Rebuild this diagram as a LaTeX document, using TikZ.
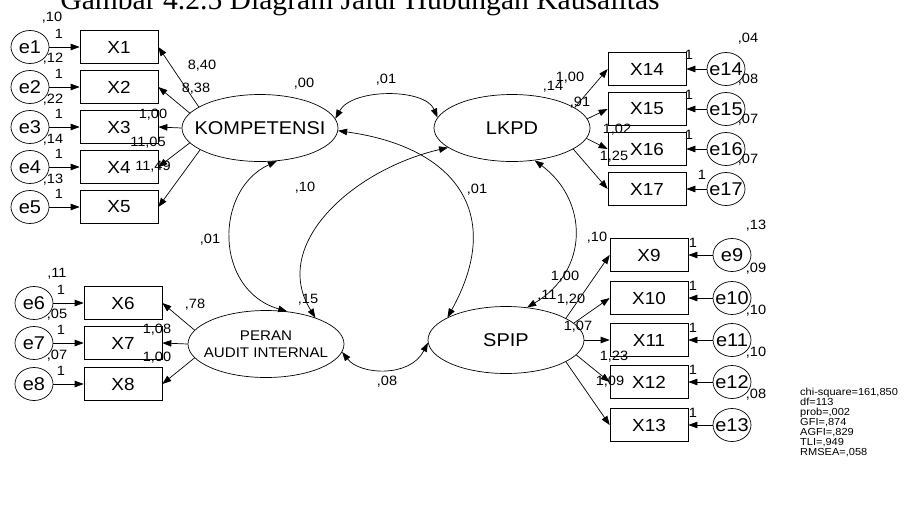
\documentclass[tikz,border=0pt]{standalone}
\usepackage{fontspec}
\setmainfont{Liberation Sans}[FakeStretch=1.08]
\newfontfamily\titlefont{Liberation Serif}
\usetikzlibrary{arrows.meta,shapes.geometric}
\newcommand\zb[1]{\makebox[0pt]{#1}}
\begin{document}
\begin{tikzpicture}[x=1pt,y=-1pt,
  lat/.style={ellipse, draw, line width=0.7pt, minimum width=156, minimum height=67, inner sep=0, font=\fontsize{18.5}{20}\selectfont},
  obs/.style={rectangle, draw, line width=0.7pt, minimum width=78, minimum height=33, inner sep=0, font=\fontsize{17.5}{19}\selectfont},
  err/.style={ellipse, draw, line width=0.7pt, minimum width=38, minimum height=33, inner sep=0, font=\fontsize{18.5}{20}\selectfont},
  val/.style={inner sep=0, font=\fontsize{13.5}{14}\selectfont},
  arr/.style={-{Triangle[length=9pt,width=6.5pt]}, line width=0.7pt},
  cov/.style={{Triangle[length=9pt,width=6.5pt]}-{Triangle[length=9pt,width=6.5pt]}, line width=0.7pt}]
\useasboundingbox (0,0) rectangle (910,504);

% title
\node[font=\titlefont\fontsize{29.6}{30}\selectfont, anchor=base, inner sep=0] (title) at (360,9) {Gambar 4.2.5 Diagram Jalur Hubungan Kausalitas};

% latent variables
\node[lat] (komp) at (260,128) {\zb{KOMPETENSI}};
\node[lat] (lkpd) at (512,128) {\zb{LKPD}};
\node[lat, align=center, font=\fontsize{14}{17}\selectfont] (peran) at (266,344) {\zb{PERAN}\\\zb{AUDIT INTERNAL}};
\node[lat] (spip) at (506,340) {\zb{SPIP}};

% KOMPETENSI indicators
\foreach \i/\y in {1/47,2/87,3/127,4/167,5/207} {
  \node[err] (e\i) at (30,\y) {\zb{e\i}};
  \node[obs] (X\i) at (119,\y) {X\i};
  \draw[arr] (e\i) -- (X\i);
  \node[val] at (59,\y-13) {1};
}
\node[val] at (52,18) {,10};
\node[val] at (53,59) {,12};
\node[val] at (53,100) {,22};
\node[val] at (53,140) {,14};
\node[val] at (53,180) {,13};
\draw[arr] (komp.161) -- (X1.east);
\draw[arr] (komp.168) -- (X2.east);
\draw[arr] (komp.180) -- (X3.east);
\draw[arr] (komp.192) -- (X4.east);
\draw[arr] (komp.200) -- (X5.east);
\node[val] at (202,66) {8,40};
\node[val] at (196,89) {8,38};
\node[val] at (153,115) {1,00};
\node[val] at (148,143) {11,05};
\node[val] at (153,167) {11,49};
\node[val] at (304,84) {,00};

% LKPD indicators
\foreach \i/\y in {14/69,15/109,16/149,17/189} {
  \node[err] (e\i) at (726,\y) {\zb{e\i}};
  \node[obs] (X\i) at (647,\y) {X\i};
  \draw[arr] (e\i) -- (X\i);
}
\node[val] at (689,55) {1};
\node[val] at (689,95) {1};
\node[val] at (689,135) {1};
\node[val] at (702,175) {1};
\node[val] at (748,39) {,04};
\node[val] at (748,80) {,08};
\node[val] at (748,120) {,07};
\node[val] at (748,160) {,07};
\draw[arr] (lkpd.18) -- (X14.west);
\draw[arr] (lkpd.7) -- (X15.west);
\draw[arr] (lkpd.352) -- (X16.west);
\draw[arr] (lkpd.341) -- (X17.west);
\node[val] at (553,87) {,14};
\node[val] at (570,78) {1,00};
\node[val] at (580,103) {,91};
\node[val] at (617,130) {1,02};
\node[val] at (614,157) {1,25};

% PERAN indicators
\foreach \i/\y in {6/303,7/343,8/384} {
  \node[err] (e\i) at (34,\y) {\zb{e\i}};
  \node[obs] (X\i) at (123,\y) {X\i};
  \draw[arr] (e\i) -- (X\i);
  \node[val] at (61,\y-13) {1};
}
\node[val] at (57,274) {,11};
\node[val] at (57,315) {,05};
\node[val] at (57,356) {,07};
\draw[arr] (peran.169) -- (X6.east);
\draw[arr] (peran.180) -- (X7.east);
\draw[arr] (peran.191) -- (X8.east);
\node[val] at (195,305) {,78};
\node[val] at (157,330) {1,08};
\node[val] at (157,358) {1,00};

% SPIP indicators
\foreach \i/\y in {9/255,10/298,11/340,12/382,13/425} {
  \node[err] (e\i) at (732,\y) {\zb{e\i}};
  \node[obs] (X\i) at (649,\y) {X\i};
  \draw[arr] (e\i) -- (X\i);
  \node[val] at (693,\y-12) {1};
}
\node[val] at (756,226) {,13};
\node[val] at (756,269) {,09};
\node[val] at (756,311) {,10};
\node[val] at (756,353) {,10};
\node[val] at (756,395) {,08};
\draw[arr] (spip.20) -- (X9.west);
\draw[arr] (spip.14) -- (X10.west);
\draw[arr] (spip.0) -- (X11.west);
\draw[arr] (spip.348) -- (X12.west);
\draw[arr] (spip.340) -- (X13.west);
\node[val] at (597,238) {,10};
\node[val] at (565,277) {1,00};
\node[val] at (547,296) {,11};
\node[val] at (571,300) {1,20};
\node[val] at (578,327) {1,07};
\node[val] at (614,357) {1,23};
\node[val] at (610,382) {1,09};

% covariances
\draw[cov] (komp.7) .. controls (352,88) and (425,88) .. (lkpd.172);
\node[val] at (386,80) {,01};
\draw[cov] (komp.297) .. controls (214,190) and (214,290) .. (peran.57);
\node[val] at (210,240) {,01};
\draw[cov] (komp.358) .. controls (456,147) and (505,214) .. (spip.159);
\node[val] at (477,190) {,01};
\draw[cov] (lkpd.197) .. controls (352,170) and (270,245) .. (peran.28);
\node[val] at (305,188) {,10};
\draw[cov] (lkpd.305) .. controls (588,200) and (590,270) .. (spip.57);
\draw[cov] (peran.354) .. controls (360,375) and (410,378) .. (spip.182);
\node[val] at (387,382) {,08};
\node[val] at (308,300) {,15};

% fit statistics
\node[anchor=north west, align=left, inner sep=0, font=\fontsize{10.2}{10}\selectfont] (fit) at (800,388) {chi-square=161,850\\df=113\\prob=,002\\GFI=,874\\AGFI=,829\\TLI=,949\\RMSEA=,058};
\end{tikzpicture}
\end{document}
